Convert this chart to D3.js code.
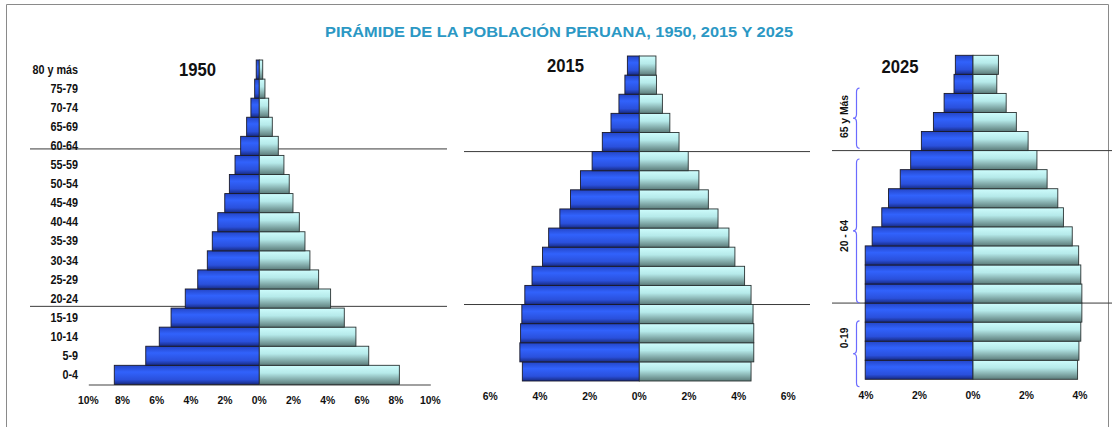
<!DOCTYPE html>
<html>
<head>
<meta charset="utf-8">
<script src="https://cdn.jsdelivr.net/npm/d3@7"></script>
<style>
  html, body { margin: 0; padding: 0; background: #fff; }
  svg { display: block; font-family: "Liberation Sans", Arial, sans-serif; }
</style>
</head>
<body>
<svg id="chart" width="1113" height="427"></svg>
<script>
// grupos de edad, de abajo (0-4) hacia arriba (80 y más)
const edades = ['0-4', '5-9', '10-14', '15-19', '20-24', '25-29', '30-34', '35-39', '40-44',
  '45-49', '50-54', '55-59', '60-64', '65-69', '70-74', '75-79', '80 y más'];

// % de la población (hombres a la izquierda, mujeres a la derecha)
const hombres1950 = [8.48, 6.64, 5.85, 5.16, 4.33, 3.60, 3.04, 2.75, 2.43, 2.02, 1.75, 1.42, 1.09, 0.74, 0.49, 0.27, 0.18];
const mujeres1950 = [8.19, 6.40, 5.65, 4.97, 4.17, 3.47, 2.96, 2.67, 2.34, 1.97, 1.75, 1.44, 1.11, 0.76, 0.55, 0.33, 0.20];
const hombres2015 = [4.71, 4.81, 4.78, 4.73, 4.61, 4.32, 3.90, 3.65, 3.20, 2.77, 2.37, 1.90, 1.49, 1.14, 0.82, 0.58, 0.48];
const mujeres2015 = [4.50, 4.61, 4.61, 4.58, 4.50, 4.24, 3.85, 3.61, 3.17, 2.78, 2.40, 1.97, 1.60, 1.23, 0.93, 0.69, 0.67];
const hombres2025 = [4.03, 4.03, 4.03, 4.03, 4.03, 4.03, 4.03, 3.77, 3.41, 3.16, 2.72, 2.33, 1.93, 1.48, 1.08, 0.71, 0.66];
const mujeres2025 = [3.91, 3.96, 4.03, 4.07, 4.07, 4.03, 3.95, 3.71, 3.38, 3.17, 2.77, 2.39, 2.06, 1.62, 1.24, 0.89, 0.95];

const ticks1950 = [-10, -8, -6, -4, -2, 0, 2, 4, 6, 8, 10];
const ticks2015 = [-6, -4, -2, 0, 2, 4, 6];
const ticks2025 = [-4, -2, 0, 2, 4];

// líneas de corte (en unidades de grupo de edad)
const cortes1950 = [4.09, 12.34];
const cortes2015 = [4, 12];
const cortes2025 = [4, 12];

// llaves de 2025: [desde, hasta, posición del texto, texto]
const llaves2025 = [
  [12.12, 15.28, 13.79, '65 y Más'],
  [4.02, 11.56, 7.52, '20 - 64'],
  [-0.39, 3.07, 2.17, '0-19']
];

const TITULO = 'PIRÁMIDE DE LA POBLACIÓN PERUANA, 1950, 2015 Y 2025';

const PANELES = [
  { anio: '1950', h: hombres1950, m: mujeres1950, ticks: ticks1950, cortes: cortes1950,
    x: [88.3, 430.3], y: [384.4, 60], lineaX: [30, 447], anioX: 197.5, anioY: 76,
    tickY: 404, eje: true, etiquetas: true },
  { anio: '2015', h: hombres2015, m: mujeres2015, ticks: ticks2015, cortes: cortes2015,
    x: [490.3, 788.3], y: [381, 56], lineaX: [464, 810], anioX: 565.5, anioY: 71.5,
    tickY: 400, eje: false, etiquetas: false },
  { anio: '2025', h: hombres2025, m: mujeres2025, ticks: ticks2025, cortes: cortes2025,
    x: [866, 1080], y: [379.3, 55.3], lineaX: [832, 1112], anioX: 900, anioY: 73,
    tickY: 398.5, eje: false, etiquetas: false, llaves: llaves2025 }
];

const svg = d3.select('#chart');

const defs = svg.append('defs');
const gH = defs.append('linearGradient').attr('id', 'grad-h')
  .attr('x1', 0).attr('y1', 0).attr('x2', 0).attr('y2', 1);
[[0, '#2445c6'], [0.35, '#3162fc'], [0.75, '#2a50dc'], [1, '#172a82']]
  .forEach(([o, c]) => gH.append('stop').attr('offset', o).attr('stop-color', c));
const gM = defs.append('linearGradient').attr('id', 'grad-m')
  .attr('x1', 0).attr('y1', 0).attr('x2', 0).attr('y2', 1);
[[0, '#cefcfc'], [0.4, '#b6eaea'], [1, '#5c7c7a']]
  .forEach(([o, c]) => gM.append('stop').attr('offset', o).attr('stop-color', c));

// marco
svg.append('path')
  .attr('d', 'M6.5,440 V4.5 H1108.5 V440')
  .attr('fill', 'none')
  .attr('stroke', '#8a8a8a')
  .attr('stroke-width', 1);

svg.append('text')
  .attr('x', 559)
  .attr('y', 36.5)
  .attr('text-anchor', 'middle')
  .attr('fill', '#2b98c4')
  .attr('font-weight', 'bold')
  .attr('font-size', 15.5)
  .attr('textLength', 468)
  .attr('lengthAdjust', 'spacingAndGlyphs')
  .text(TITULO);

for (const p of PANELES) {
  const dom = d3.max(p.ticks);
  const x = d3.scaleLinear().domain([-dom, dom]).range(p.x);
  const y = d3.scaleBand().domain(d3.range(edades.length)).range(p.y).padding(0);
  const yIdx = d3.scaleLinear().domain([0, edades.length]).range(p.y);

  const g = svg.append('g');

  // líneas de corte detrás de las barras
  g.selectAll('.corte')
    .data(p.cortes)
    .enter()
    .append('line')
    .attr('x1', p.lineaX[0]).attr('x2', p.lineaX[1])
    .attr('y1', (d) => yIdx(d)).attr('y2', (d) => yIdx(d))
    .attr('stroke', '#3a3a3a')
    .attr('stroke-width', 1);

  if (p.eje) {
    g.append('g')
      .attr('transform', `translate(0,${p.y[0]})`)
      .call(d3.axisBottom(x).tickValues([]).tickSizeOuter(0))
      .call((ax) => ax.select('.domain').attr('stroke', '#a0a0a0').attr('stroke-width', 2));
  }

  const filas = edades.map((e, i) => ({ i, h: p.h[i], m: p.m[i] }));

  g.selectAll('.bar-h')
    .data(filas)
    .enter()
    .append('rect')
    .attr('class', 'bar-h')
    .attr('x', (d) => x(-d.h))
    .attr('y', (d) => y(d.i))
    .attr('width', (d) => x(0) - x(-d.h))
    .attr('height', y.bandwidth())
    .attr('fill', 'url(#grad-h)')
    .attr('stroke', '#1a1a2a')
    .attr('stroke-width', 0.9);

  g.selectAll('.bar-m')
    .data(filas)
    .enter()
    .append('rect')
    .attr('class', 'bar-m')
    .attr('x', x(0))
    .attr('y', (d) => y(d.i))
    .attr('width', (d) => x(d.m) - x(0))
    .attr('height', y.bandwidth())
    .attr('fill', 'url(#grad-m)')
    .attr('stroke', '#2a3333')
    .attr('stroke-width', 0.9);

  // etiquetas del eje x (valores absolutos)
  g.selectAll('.tick-x')
    .data(p.ticks)
    .enter()
    .append('text')
    .attr('class', 'cmp')
    .attr('x', (d) => x(d))
    .attr('y', p.tickY)
    .attr('text-anchor', 'middle')
    .attr('font-weight', 'bold')
    .attr('font-size', 11.5)
    .attr('fill', '#111')
    .text((d) => `${Math.abs(d)}%`);

  if (p.etiquetas) {
    g.selectAll('.edad')
      .data(edades)
      .enter()
      .append('text')
      .attr('class', 'cmp')
      .attr('x', 78)
      .attr('y', (d, i) => y(i) + y.bandwidth() / 2 + 4.2)
      .attr('text-anchor', 'end')
      .attr('font-weight', 'bold')
      .attr('font-size', 12)
      .attr('fill', '#111')
      .text((d) => d);
  }

  g.append('text')
    .attr('class', 'cmp')
    .attr('x', p.anioX)
    .attr('y', p.anioY)
    .attr('text-anchor', 'middle')
    .attr('font-weight', 'bold')
    .attr('font-size', 18.5)
    .attr('fill', '#111')
    .text(p.anio);

  if (p.llaves) {
    const bx = 856.5;
    for (const [a, b, t, txt] of p.llaves) {
      const y1 = yIdx(b), y2 = yIdx(a), ym = (y1 + y2) / 2;
      const path = d3.path();
      path.moveTo(bx + 3, y1);
      path.quadraticCurveTo(bx, y1, bx, y1 + 4);
      path.lineTo(bx, ym - 4);
      path.quadraticCurveTo(bx, ym, bx - 3.5, ym);
      path.quadraticCurveTo(bx, ym, bx, ym + 4);
      path.lineTo(bx, y2 - 4);
      path.quadraticCurveTo(bx, y2, bx + 3, y2);
      g.append('path')
        .attr('d', path.toString())
        .attr('fill', 'none')
        .attr('stroke', '#6b6bff')
        .attr('stroke-width', 1.2);

      g.append('text')
        .attr('class', 'cmp')
        .attr('transform', `translate(${848},${yIdx(t)}) rotate(-90)`)
        .attr('text-anchor', 'middle')
        .attr('font-weight', 'bold')
        .attr('font-size', 11.5)
        .attr('fill', '#111')
        .text(txt);
    }
  }
}

// la tipografía del original es algo más estrecha
svg.selectAll('text.cmp').each(function () {
  const len = this.getComputedTextLength();
  d3.select(this)
    .attr('textLength', (len * 0.9).toFixed(1))
    .attr('lengthAdjust', 'spacingAndGlyphs');
});
</script>
</body>
</html>
